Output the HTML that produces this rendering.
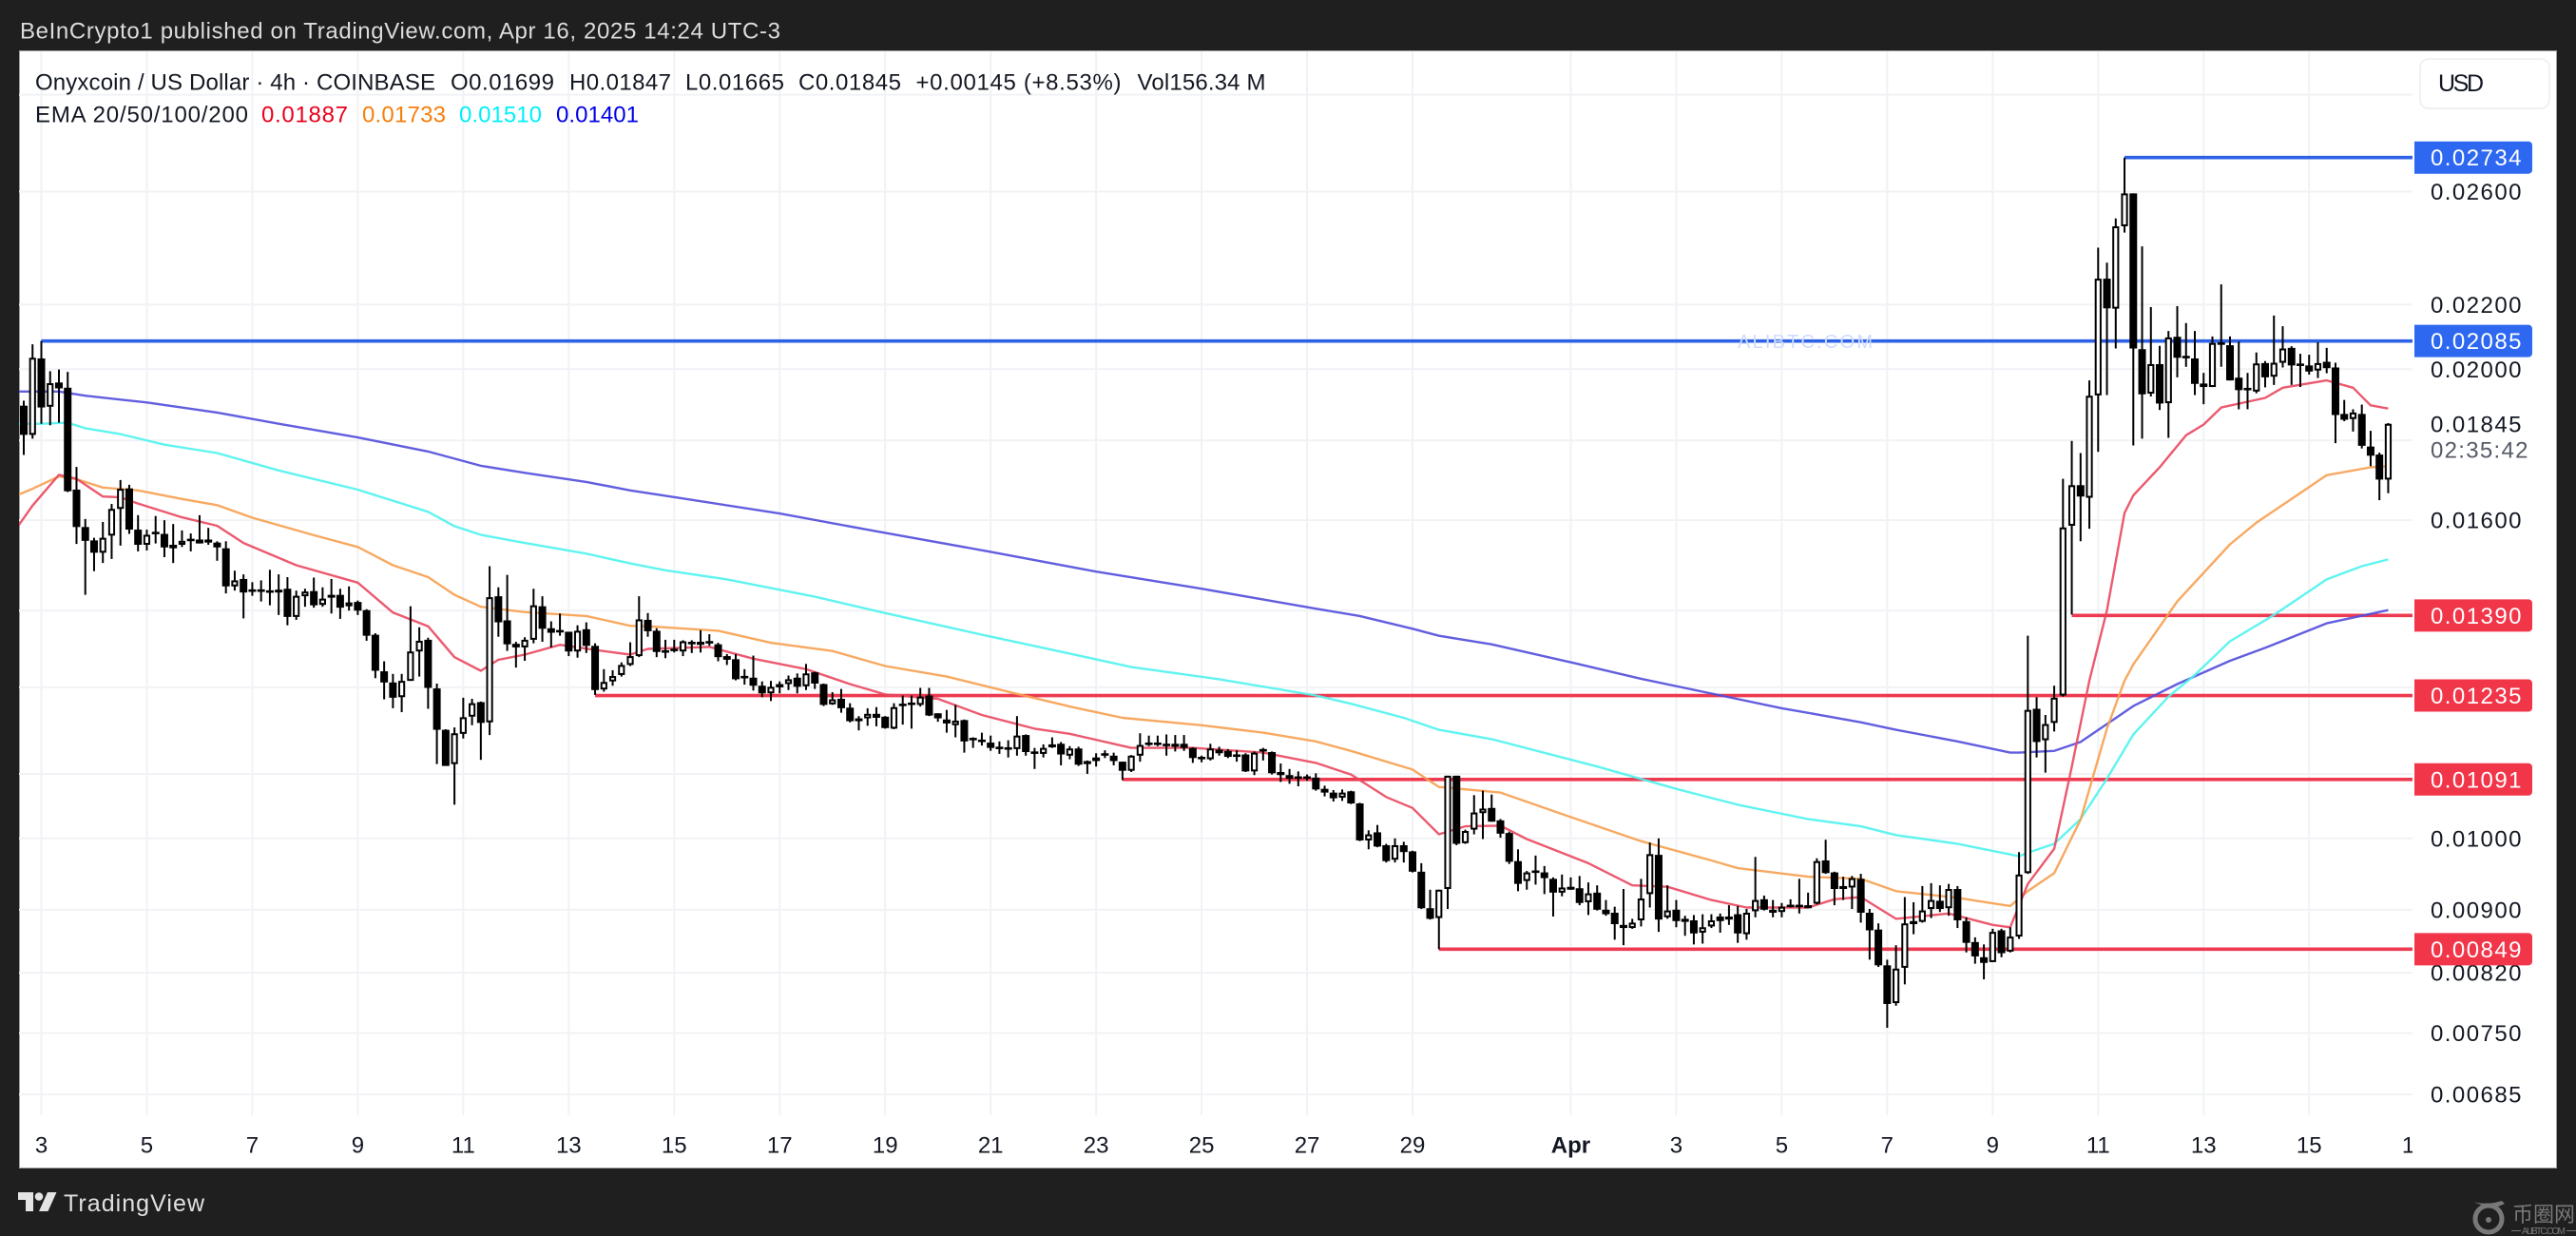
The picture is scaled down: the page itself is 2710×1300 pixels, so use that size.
<!DOCTYPE html>
<html lang="en">
<head>
<meta charset="utf-8">
<title>Onyxcoin / US Dollar chart</title>
<style>
html,body{margin:0;padding:0;background:#1f1f1f;width:2710px;height:1300px;overflow:hidden}
svg{display:block;font-family:"Liberation Sans","Noto Sans CJK SC",sans-serif}
</style>
</head>
<body>
<svg id="chart" xmlns="http://www.w3.org/2000/svg" width="2710" height="1300" viewBox="0 0 2710 1300">
  <defs><clipPath id="plot-clip"><rect x="20" y="54" width="2518" height="1119"/></clipPath></defs>
  <rect x="0" y="0" width="2710" height="1300" fill="#1f1f1f"/>
  <rect x="20.5" y="53.5" width="2669" height="1175" fill="#ffffff" stroke="#a0a0a0" stroke-width="1"/>
  <text x="21" y="40.5" font-size="24" fill="#dcdcdc" textLength="800">BeInCrypto1 published on TradingView.com, Apr 16, 2025 14:24 UTC-3</text>
  <g id="grid"></g>
  <g id="levels"></g>
  <g id="emas" clip-path="url(#plot-clip)"></g>
  <g id="candles" clip-path="url(#plot-clip)"></g>
  <text x="1828" y="366" font-size="20" fill="#cfdcff" textLength="142">ALIBTC.COM</text>
  <g font-size="24" fill="#131722">
    <text x="37" y="94.5" textLength="421">Onyxcoin / US Dollar · 4h · COINBASE</text>
    <text x="474" y="94.5" textLength="109">O0.01699</text>
    <text x="599" y="94.5" textLength="107">H0.01847</text>
    <text x="721" y="94.5" textLength="104">L0.01665</text>
    <text x="840" y="94.5" textLength="108">C0.01845</text>
    <text x="963.5" y="94.5" textLength="216">+0.00145 (+8.53%)</text>
    <text x="1196.5" y="94.5" textLength="135">Vol156.34 M</text>
    <text x="37" y="128.5" textLength="224">EMA 20/50/100/200</text>
    <text x="275" y="128.5" textLength="91" fill="#e8001c">0.01887</text>
    <text x="381" y="128.5" textLength="88" fill="#f77f0c">0.01733</text>
    <text x="483" y="128.5" textLength="87" fill="#00f0f8">0.01510</text>
    <text x="585" y="128.5" textLength="87" fill="#0000e6">0.01401</text>
  </g>
  <g>
    <rect x="2546" y="62" width="136" height="52" rx="9" fill="#ffffff" stroke="#f1f1f4" stroke-width="2"/>
    <text x="2565" y="96" font-size="25" fill="#131722" textLength="48">USD</text>
  </g>
  <g id="price-axis"></g>
  <text x="2557" y="454.5" font-size="24" fill="#131722" textLength="95.5">0.01845</text>
  <text x="2557" y="481.5" font-size="24" fill="#555a66" textLength="102.5">02:35:42</text>
  <g id="level-labels"></g>
  <g id="time-axis"></g>
  <g fill="#e4e4e4">
    <path d="M19 1254h16v20h-8v-12h-8z"/>
    <circle cx="41" cy="1258.5" r="4.3"/>
    <path d="M50 1254h9.5l-9 20h-9.5z"/>
    <text x="67" y="1274" font-size="25" fill="#e0e0e0" textLength="148">TradingView</text>
  </g>
  <g fill="#787878">
    <circle cx="2618" cy="1282" r="14" fill="none" stroke="#787878" stroke-width="5"/>
    <path d="M2602 1264q14 4 30-1l3 3q-12 6-18 4z"/>
    <circle cx="2618" cy="1283" r="3"/>
    <text x="2643" y="1285" font-size="22" textLength="66">币圈网</text>
    <text x="2653" y="1298" font-size="10" textLength="46">ALIBTC.COM</text>
    <rect x="2642" y="1294" width="10" height="1"/>
    <rect x="2700" y="1294" width="10" height="1"/>
  </g>
</svg>
<script>
// ---- chart data -----------------------------------------------------------
// 4h candles in order: [open, high, low, close]
const candleOHLC = [
[0.01895,0.01909,0.01762,0.01815],[0.01815,0.02075,0.01805,0.02034],[0.02032,0.02085,0.01845,0.01890],[0.01892,0.01994,0.01841,0.01959],
[0.01961,0.01999,0.01848,0.01944],[0.01946,0.01992,0.01668,0.01670],[0.01674,0.01731,0.01545,0.01584],[0.01584,0.01603,0.01433,0.01552],
[0.01553,0.01559,0.01484,0.01525],[0.01525,0.01596,0.01502,0.01559],[0.01564,0.01639,0.01511,0.01627],[0.01627,0.01698,0.01541,0.01676],
[0.01677,0.01686,0.01568,0.01578],[0.01578,0.01612,0.01528,0.01543],[0.01543,0.01578,0.01530,0.01566],[0.01572,0.01610,0.01546,0.01568],
[0.01568,0.01600,0.01515,0.01537],[0.01535,0.01591,0.01502,0.01543],[0.01543,0.01576,0.01538,0.01552],[0.01553,0.01569,0.01528,0.01555],
[0.01555,0.01612,0.01546,0.01546],[0.01555,0.01582,0.01543,0.01548],[0.01548,0.01551,0.01507,0.01537],[0.01535,0.01551,0.01436,0.01451],
[0.01451,0.01485,0.01442,0.01464],[0.01467,0.01477,0.01384,0.01438],[0.01442,0.01460,0.01431,0.01442],[0.01442,0.01464,0.01419,0.01442],
[0.01440,0.01487,0.01411,0.01440],[0.01444,0.01477,0.01391,0.01438],[0.01446,0.01471,0.01370,0.01387],[0.01387,0.01442,0.01381,0.01431],
[0.01430,0.01446,0.01408,0.01440],[0.01441,0.01470,0.01406,0.01411],[0.01412,0.01449,0.01408,0.01425],[0.01433,0.01467,0.01394,0.01427],
[0.01433,0.01446,0.01383,0.01406],[0.01409,0.01451,0.01400,0.01417],[0.01418,0.01421,0.01391,0.01400],[0.01401,0.01403,0.01339,0.01349],
[0.01351,0.01354,0.01267,0.01281],[0.01280,0.01299,0.01228,0.01259],[0.01259,0.01275,0.01212,0.01231],[0.01232,0.01275,0.01205,0.01262],
[0.01262,0.01409,0.01262,0.01318],[0.01318,0.01366,0.01270,0.01339],[0.01341,0.01345,0.01211,0.01249],[0.01248,0.01257,0.01116,0.01174],
[0.01174,0.01175,0.01113,0.01113],[0.01116,0.01178,0.01051,0.01168],[0.01167,0.01231,0.01159,0.01196],[0.01197,0.01229,0.01182,0.01221],
[0.01223,0.01224,0.01123,0.01186],[0.01187,0.01495,0.01165,0.01428],[0.01430,0.01449,0.01347,0.01376],[0.01380,0.01476,0.01319,0.01332],
[0.01333,0.01337,0.01287,0.01326],[0.01326,0.01346,0.01300,0.01341],[0.01341,0.01446,0.01334,0.01411],[0.01409,0.01430,0.01337,0.01363],
[0.01364,0.01378,0.01326,0.01355],[0.01359,0.01394,0.01349,0.01357],[0.01357,0.01357,0.01309,0.01318],[0.01318,0.01370,0.01306,0.01359],
[0.01362,0.01376,0.01315,0.01329],[0.01329,0.01334,0.01236,0.01245],[0.01246,0.01284,0.01242,0.01260],[0.01261,0.01282,0.01253,0.01271],
[0.01273,0.01297,0.01270,0.01292],[0.01292,0.01336,0.01290,0.01309],[0.01309,0.01430,0.01307,0.01382],[0.01381,0.01395,0.01347,0.01358],
[0.01359,0.01364,0.01307,0.01317],[0.01319,0.01341,0.01305,0.01317],[0.01321,0.01341,0.01316,0.01321],[0.01318,0.01340,0.01309,0.01338],
[0.01337,0.01340,0.01315,0.01332],[0.01337,0.01360,0.01316,0.01331],[0.01336,0.01352,0.01329,0.01336],[0.01332,0.01335,0.01299,0.01307],
[0.01309,0.01313,0.01292,0.01302],[0.01303,0.01313,0.01263,0.01265],[0.01269,0.01284,0.01255,0.01269],[0.01268,0.01310,0.01244,0.01253],
[0.01253,0.01261,0.01232,0.01239],[0.01239,0.01262,0.01225,0.01251],[0.01256,0.01261,0.01239,0.01250],[0.01256,0.01272,0.01245,0.01265],
[0.01268,0.01276,0.01239,0.01251],[0.01252,0.01294,0.01245,0.01276],[0.01278,0.01279,0.01247,0.01257],[0.01256,0.01257,0.01216,0.01218],
[0.01219,0.01241,0.01218,0.01228],[0.01229,0.01247,0.01204,0.01212],[0.01213,0.01221,0.01187,0.01189],[0.01194,0.01198,0.01173,0.01189],
[0.01194,0.01212,0.01181,0.01202],[0.01202,0.01214,0.01180,0.01195],[0.01197,0.01198,0.01176,0.01177],[0.01176,0.01221,0.01175,0.01214],
[0.01218,0.01235,0.01183,0.01218],[0.01222,0.01235,0.01176,0.01218],[0.01218,0.01249,0.01215,0.01233],[0.01235,0.01249,0.01198,0.01199],
[0.01203,0.01203,0.01188,0.01194],[0.01192,0.01209,0.01169,0.01185],[0.01182,0.01218,0.01161,0.01190],[0.01191,0.01192,0.01135,0.01154],
[0.01158,0.01161,0.01143,0.01158],[0.01157,0.01169,0.01147,0.01153],[0.01152,0.01164,0.01138,0.01143],[0.01143,0.01154,0.01133,0.01143],
[0.01142,0.01156,0.01127,0.01142],[0.01141,0.01198,0.01130,0.01164],[0.01165,0.01166,0.01130,0.01136],[0.01135,0.01143,0.01108,0.01135],
[0.01133,0.01149,0.01127,0.01143],[0.01144,0.01161,0.01143,0.01149],[0.01150,0.01153,0.01114,0.01132],[0.01130,0.01146,0.01124,0.01142],
[0.01142,0.01145,0.01113,0.01115],[0.01116,0.01122,0.01100,0.01121],[0.01127,0.01134,0.01112,0.01121],[0.01132,0.01139,0.01126,0.01132],
[0.01130,0.01135,0.01114,0.01121],[0.01120,0.01120,0.01090,0.01105],[0.01105,0.01131,0.01103,0.01130],[0.01130,0.01168,0.01120,0.01148],
[0.01150,0.01164,0.01146,0.01150],[0.01150,0.01164,0.01146,0.01150],[0.01150,0.01166,0.01130,0.01146],[0.01150,0.01165,0.01137,0.01145],
[0.01150,0.01165,0.01138,0.01143],[0.01143,0.01144,0.01118,0.01126],[0.01126,0.01130,0.01119,0.01126],[0.01124,0.01150,0.01122,0.01142],
[0.01140,0.01145,0.01130,0.01134],[0.01138,0.01141,0.01126,0.01128],[0.01130,0.01139,0.01120,0.01130],[0.01132,0.01134,0.01103,0.01104],
[0.01104,0.01137,0.01098,0.01135],[0.01139,0.01143,0.01122,0.01139],[0.01136,0.01137,0.01099,0.01101],[0.01103,0.01117,0.01087,0.01098],
[0.01098,0.01108,0.01084,0.01092],[0.01094,0.01104,0.01080,0.01094],[0.01094,0.01099,0.01089,0.01094],[0.01094,0.01101,0.01073,0.01075],
[0.01076,0.01081,0.01064,0.01070],[0.01070,0.01074,0.01056,0.01061],[0.01062,0.01075,0.01057,0.01070],[0.01072,0.01073,0.01052,0.01053],
[0.01053,0.01054,0.00996,0.00997],[0.00997,0.01012,0.00984,0.01006],[0.01009,0.01020,0.00987,0.00988],[0.00990,0.00992,0.00965,0.00967],
[0.00969,0.01000,0.00965,0.00990],[0.00990,0.00995,0.00965,0.00980],[0.00981,0.00982,0.00951,0.00952],[0.00952,0.00964,0.00901,0.00902],
[0.00902,0.00927,0.00887,0.00888],[0.00889,0.00927,0.00849,0.00927],[0.00928,0.01097,0.00901,0.01097],[0.01097,0.01097,0.00990,0.00992],
[0.00993,0.01013,0.00992,0.01011],[0.01013,0.01066,0.01006,0.01039],[0.01038,0.01073,0.00999,0.01045],[0.01046,0.01067,0.01025,0.01025],
[0.01027,0.01029,0.01001,0.01007],[0.01008,0.01010,0.00963,0.00966],[0.00967,0.00984,0.00925,0.00935],[0.00939,0.00953,0.00927,0.00951],
[0.00952,0.00975,0.00934,0.00952],[0.00951,0.00960,0.00921,0.00943],[0.00942,0.00944,0.00891,0.00923],[0.00923,0.00948,0.00918,0.00930],
[0.00931,0.00944,0.00927,0.00927],[0.00929,0.00946,0.00906,0.00909],[0.00910,0.00937,0.00893,0.00922],[0.00923,0.00933,0.00899,0.00900],
[0.00900,0.00913,0.00892,0.00894],[0.00896,0.00904,0.00861,0.00881],[0.00880,0.00928,0.00854,0.00876],[0.00876,0.00888,0.00875,0.00883],
[0.00886,0.00942,0.00878,0.00915],[0.00921,0.00994,0.00903,0.00977],[0.00976,0.01000,0.00871,0.00887],[0.00890,0.00933,0.00888,0.00899],
[0.00900,0.00913,0.00877,0.00885],[0.00888,0.00892,0.00866,0.00884],[0.00886,0.00893,0.00855,0.00869],[0.00870,0.00894,0.00856,0.00877],
[0.00878,0.00894,0.00876,0.00886],[0.00891,0.00895,0.00870,0.00885],[0.00891,0.00906,0.00880,0.00887],[0.00894,0.00905,0.00857,0.00869],
[0.00868,0.00901,0.00861,0.00896],[0.00898,0.00973,0.00890,0.00913],[0.00914,0.00919,0.00899,0.00900],[0.00900,0.00913,0.00890,0.00896],
[0.00897,0.00909,0.00890,0.00904],[0.00905,0.00914,0.00903,0.00905],[0.00905,0.00942,0.00895,0.00905],[0.00906,0.00923,0.00902,0.00902],
[0.00908,0.00971,0.00907,0.00967],[0.00968,0.00998,0.00949,0.00950],[0.00951,0.00952,0.00906,0.00928],[0.00928,0.00945,0.00913,0.00932],
[0.00930,0.00946,0.00901,0.00943],[0.00942,0.00949,0.00883,0.00896],[0.00896,0.00901,0.00836,0.00873],[0.00874,0.00882,0.00827,0.00829],
[0.00829,0.00836,0.00756,0.00783],[0.00784,0.00854,0.00781,0.00825],[0.00826,0.00917,0.00806,0.00882],[0.00881,0.00910,0.00868,0.00885],
[0.00884,0.00932,0.00883,0.00899],[0.00901,0.00936,0.00889,0.00913],[0.00912,0.00933,0.00897,0.00901],[0.00902,0.00935,0.00892,0.00928],
[0.00928,0.00932,0.00876,0.00886],[0.00885,0.00890,0.00845,0.00857],[0.00858,0.00864,0.00831,0.00840],[0.00839,0.00855,0.00812,0.00832],
[0.00833,0.00875,0.00833,0.00871],[0.00873,0.00875,0.00839,0.00844],[0.00846,0.00877,0.00845,0.00865],[0.00865,0.00980,0.00862,0.00948],
[0.00950,0.01349,0.00949,0.01209],[0.01211,0.01232,0.01127,0.01153],[0.01156,0.01200,0.01102,0.01184],[0.01186,0.01253,0.01171,0.01231],
[0.01235,0.01701,0.01233,0.01583],[0.01587,0.01799,0.01392,0.01685],[0.01685,0.01767,0.01551,0.01657],[0.01654,0.01967,0.01580,0.01923],
[0.01924,0.02393,0.01770,0.02286],[0.02286,0.02341,0.01925,0.02188],[0.02187,0.02499,0.02062,0.02470],[0.02470,0.02734,0.02447,0.02593],
[0.02593,0.02593,0.01787,0.02062],[0.02060,0.02398,0.01805,0.01927],[0.01929,0.02192,0.01921,0.02015],[0.02015,0.02070,0.01883,0.01901],
[0.01902,0.02116,0.01807,0.02096],[0.02098,0.02195,0.01976,0.02034],[0.02036,0.02141,0.02007,0.02036],[0.02032,0.02116,0.01925,0.01957],
[0.01958,0.01989,0.01899,0.01948],[0.01948,0.02099,0.01948,0.02079],[0.02077,0.02267,0.02007,0.02077],[0.02072,0.02099,0.01967,0.01967],
[0.01975,0.02083,0.01885,0.01939],[0.01942,0.01989,0.01885,0.01942],[0.01935,0.02050,0.01930,0.02017],[0.02018,0.02024,0.01947,0.01976],
[0.01978,0.02165,0.01954,0.02019],[0.02019,0.02131,0.02005,0.02062],[0.02064,0.02069,0.01954,0.02011],[0.02013,0.02046,0.01948,0.02013],
[0.02011,0.02043,0.01984,0.01993],[0.01996,0.02081,0.01974,0.02018],[0.02022,0.02064,0.01988,0.02003],[0.02005,0.02019,0.01793,0.01869],
[0.01872,0.01911,0.01852,0.01856],[0.01858,0.01885,0.01824,0.01876],[0.01872,0.01898,0.01779,0.01786],[0.01784,0.01826,0.01733,0.01760],
[0.01763,0.01768,0.01648,0.01699],[0.01699,0.01847,0.01665,0.01845]
];
// EMA readings: candle index and value at that candle
const ema20Bars = [-1,1,4,6,9,11,13,18,22,25,31,38,42,46,49,52,54,57,61,65,69,71,78,83,89,94,98,104,109,115,119,126,133,141,147,151,155,158,161,164,168,171,178,183,187,192,196,203,206,209,213,219,224,226,228,231,233,235,237,239,240,243,246,248,250,255,257,262,265,267,269];
const ema20Values = [0.01576,0.01635,0.01711,0.01701,0.01657,0.01655,0.01640,0.01607,0.01587,0.01547,0.01497,0.01459,0.01396,0.01368,0.01307,0.01281,0.01302,0.01312,0.01331,0.01321,0.01312,0.01323,0.01327,0.01304,0.01284,0.01256,0.01237,0.01229,0.01200,0.01176,0.01167,0.01143,0.01143,0.01135,0.01118,0.01099,0.01063,0.01046,0.01006,0.01018,0.01019,0.00999,0.00964,0.00933,0.00931,0.00913,0.00903,0.00903,0.00914,0.00917,0.00888,0.00895,0.00880,0.00877,0.00935,0.00985,0.01112,0.01262,0.01400,0.01617,0.01660,0.01730,0.01814,0.01843,0.01890,0.01917,0.01946,0.01967,0.01946,0.01896,0.01887];
const ema50Bars = [-1,1,4,6,9,13,18,22,26,33,38,42,46,49,52,57,64,69,71,79,85,92,98,105,113,119,125,134,141,147,151,158,161,168,176,184,192,195,203,209,213,220,226,228,231,234,237,239,240,245,251,254,262,267,269];
const ema50Values = [0.01658,0.01676,0.01707,0.01700,0.01679,0.01672,0.01651,0.01636,0.01606,0.01565,0.01538,0.01497,0.01471,0.01433,0.01408,0.01397,0.01389,0.01369,0.01368,0.01359,0.01335,0.01319,0.01290,0.01270,0.01238,0.01215,0.01195,0.01182,0.01169,0.01154,0.01138,0.01107,0.01079,0.01070,0.01032,0.00996,0.00968,0.00957,0.00945,0.00942,0.00925,0.00916,0.00905,0.00925,0.00950,0.01028,0.01176,0.01262,0.01293,0.01419,0.01544,0.01594,0.01710,0.01730,0.01733];
const ema100Bars = [-1,2,5,7,11,16,22,29,38,46,49,52,57,64,69,73,80,90,98,109,119,126,136,147,151,157,161,167,179,188,195,203,209,213,220,227,228,231,234,237,240,244,247,251,256,262,266,269];
const ema100Values = [0.01845,0.01845,0.01848,0.01833,0.01817,0.01789,0.01767,0.01722,0.01674,0.01620,0.01586,0.01566,0.01547,0.01523,0.01501,0.01486,0.01466,0.01429,0.01395,0.01351,0.01314,0.01288,0.01265,0.01235,0.01220,0.01195,0.01174,0.01158,0.01112,0.01076,0.01051,0.01029,0.01018,0.01005,0.00992,0.00974,0.00979,0.00992,0.01029,0.01092,0.01166,0.01233,0.01273,0.01338,0.01391,0.01466,0.01495,0.01510];
const ema200Bars = [-1,4,7,14,22,29,38,46,52,57,64,69,73,86,97,110,122,134,147,152,158,161,167,176,184,191,200,204,209,213,220,226,227,231,234,240,245,251,255,262,269];
const ema200Values = [0.01935,0.01935,0.01923,0.01904,0.01876,0.01845,0.01808,0.01771,0.01734,0.01716,0.01693,0.01672,0.01659,0.01616,0.01574,0.01527,0.01483,0.01446,0.01404,0.01389,0.01363,0.01349,0.01332,0.01297,0.01266,0.01242,0.01212,0.01201,0.01187,0.01174,0.01154,0.01135,0.01135,0.01138,0.01153,0.01216,0.01256,0.01300,0.01325,0.01374,0.01401];
// horizontal drawing levels
const blueLevelPrices = [0.02734,0.02085];
const blueLevelStartBars = [239,2];
const redLevelPrices = [0.01390,0.01235,0.01091,0.00849];
const redLevelStartBars = [233,65,125,161];
// axis ticks
const gridPrices = [0.03,0.026,0.022,0.02,0.018,0.016,0.014,0.0125,0.011,0.01,0.009,0.0082,0.0075,0.00685];
const priceLabels = [0.026,0.022,0.02,0.016,0.01,0.009,0.0082,0.0075,0.00685];
const dateLabels = ['3','5','7','9','11','13','15','17','19','21','23','25','27','29','Apr','3','5','7','9','11','13','15','17'];
const dateTickDays = [0,2,4,6,8,10,12,14,16,18,20,22,24,26,29,31,33,35,37,39,41,43,45];

// ---- axis functions -------------------------------------------------------
function xOf(bar){ return 25 + 9.247 * bar; }
function xOfDay(day){ return xOf(2 + 6 * day); }
function yOf(price){ return 165.7 + 712 * (Math.log(0.02734) - Math.log(price)); }
const NS = 'http://www.w3.org/2000/svg';
function make(tag, parentId){
  const el = document.createElementNS(NS, tag);
  document.getElementById(parentId).appendChild(el);
  return el;
}
const PLOT_LEFT = 20, PLOT_RIGHT = 2538, PLOT_BOTTOM = 1173, PLOT_TOP = 54;

// ---- grid -----------------------------------------------------------------
gridPrices.forEach(function(p){
  const el = make('line','grid');
  
  
  el.setAttribute('x1', PLOT_LEFT);
  el.setAttribute('x2', PLOT_RIGHT);
  el.setAttribute('y1', yOf(p));
  el.setAttribute('y2', yOf(p));
  el.setAttribute('stroke', '#f1f2f5');
  el.setAttribute('stroke-width', '2');
});
dateTickDays.forEach(function(d){
  const x = xOfDay(d);
  if (x > PLOT_RIGHT) return;
  const el = make('line','grid');
  
  
  el.setAttribute('x1', x);
  el.setAttribute('x2', x);
  el.setAttribute('y1', PLOT_TOP);
  el.setAttribute('y2', PLOT_BOTTOM);
  el.setAttribute('stroke', '#f1f2f5');
  el.setAttribute('stroke-width', '2');
});

// ---- level lines ----------------------------------------------------------
function drawLevel(price, startBar, color, name){
  const el = make('line','levels');
  
  
  el.setAttribute('x1', xOf(startBar));
  el.setAttribute('x2', PLOT_RIGHT);
  el.setAttribute('y1', yOf(price));
  el.setAttribute('y2', yOf(price));
  el.setAttribute('stroke', color);
  el.setAttribute('stroke-width', '3.6');
}
blueLevelPrices.forEach(function(p,i){ drawLevel(p, blueLevelStartBars[i], '#2e62e6', 'resistance-level-line'); });
redLevelPrices.forEach(function(p,i){ drawLevel(p, redLevelStartBars[i], '#ee3a50', 'support-level-line'); });

// ---- EMA lines ------------------------------------------------------------
function drawEma(bars, values, color, name){
  const el = make('polyline','emas');
  
  
  el.setAttribute('points', values.map(function(v,i){ return xOf(bars[i]).toFixed(1)+','+yOf(v).toFixed(1); }).join(' '));
  el.setAttribute('fill', 'none');
  el.setAttribute('stroke', color);
  el.setAttribute('stroke-width', '2.4');
  el.setAttribute('stroke-linejoin', 'round');
  el.setAttribute('opacity', '0.9');
}
drawEma(ema200Bars, ema200Values, '#514ddc', 'ema-200-line');
drawEma(ema100Bars, ema100Values, '#4ff3ee', 'ema-100-line');
drawEma(ema50Bars, ema50Values, '#f6a050', 'ema-50-line');
drawEma(ema20Bars, ema20Values, '#e9485f', 'ema-20-line');

// ---- candles --------------------------------------------------------------
candleOHLC.forEach(function(c,i){
  const x = xOf(i), open = c[0], high = c[1], low = c[2], close = c[3];
  const wick = make('line','candles');
  
  
  wick.setAttribute('x1', x);
  wick.setAttribute('x2', x);
  wick.setAttribute('y1', yOf(high));
  wick.setAttribute('y2', yOf(low));
  wick.setAttribute('stroke', '#000000');
  wick.setAttribute('stroke-width', '2');
  const top = yOf(Math.max(open, close));
  const bottom = yOf(Math.min(open, close));
  const body = make('rect','candles');
  
  
  if (close > open && bottom - top > 4) {
    body.setAttribute('x', x - 2.6);
    body.setAttribute('width', 5.2);
    body.setAttribute('y', top + 1);
    body.setAttribute('height', bottom - top - 2);
    body.setAttribute('fill', '#ffffff');
    body.setAttribute('stroke', '#000000');
    body.setAttribute('stroke-width', '2');
  } else {
    const h = Math.max(bottom - top, 2.6);
    body.setAttribute('x', x - 4);
    body.setAttribute('width', 8);
    body.setAttribute('y', (top + bottom) / 2 - h / 2);
    body.setAttribute('height', h);
    body.setAttribute('fill', '#000000');
  }
});

// ---- price axis labels ----------------------------------------------------
priceLabels.forEach(function(p){
  const el = make('text','price-axis');
  
  
  el.setAttribute('x', 2557);
  el.setAttribute('y', yOf(p) + 8.5);
  el.setAttribute('font-size', '24');
  el.setAttribute('fill', '#131722');
  el.setAttribute('textLength', '95.5');
  el.textContent = p.toFixed(5);
});
function drawLevelLabel(price, color){
  const y = yOf(price);
  const box = make('path','level-labels');
  
  
  box.setAttribute('d', 'M2540 '+(y-17)+'H2660a4 4 0 0 1 4 4V'+(y+13)+'a4 4 0 0 1 -4 4H2540Z');
  box.setAttribute('fill', color);
  const label = make('text','level-labels');
  
  
  label.setAttribute('x', 2557);
  label.setAttribute('y', y + 8.5);
  label.setAttribute('font-size', '24');
  label.setAttribute('fill', '#ffffff');
  label.setAttribute('textLength', '95.5');
  label.textContent = price.toFixed(5);
}
blueLevelPrices.forEach(function(p){ drawLevelLabel(p, '#2e68f0'); });
redLevelPrices.forEach(function(p){ drawLevelLabel(p, '#f2364a'); });

// ---- time axis labels -----------------------------------------------------
dateLabels.forEach(function(t,i){
  const el = make('text','time-axis');
  
  
  el.setAttribute('x', xOfDay(dateTickDays[i]));
  el.setAttribute('y', 1212.5);
  el.setAttribute('font-size', '24');
  el.setAttribute('fill', '#131722');
  el.setAttribute('text-anchor', 'middle');
  if (t === 'Apr') el.setAttribute('font-weight', 'bold');
  el.textContent = t;
});
const axisMask = make('rect','time-axis');


axisMask.setAttribute('x', PLOT_RIGHT);
axisMask.setAttribute('y', 1180);
axisMask.setAttribute('width', 60);
axisMask.setAttribute('height', 45);
axisMask.setAttribute('fill', '#ffffff');
</script>
</body>
</html>
